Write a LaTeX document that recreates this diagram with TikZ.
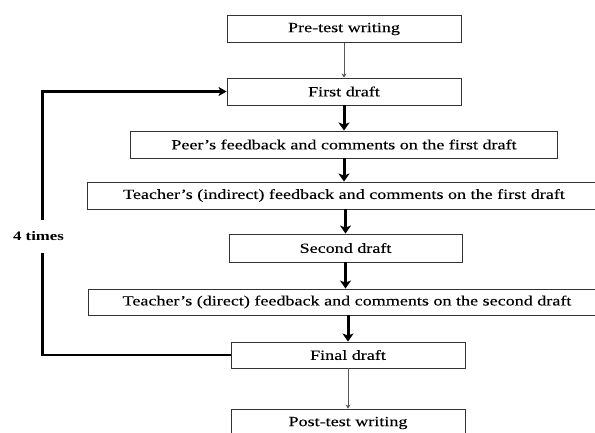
\documentclass[tikz,border=0pt]{standalone}
\usepackage{fontspec}
\setmainfont{Liberation Serif}[FakeStretch=1.29, FakeBold=0.12, BoldFeatures={FakeBold=0}]
\usetikzlibrary{arrows.meta}
\tikzset{
  box/.style={draw=black!80, line width=0.9pt, fill=white, minimum height=27pt, inner sep=0pt, font=\fontsize{14}{16}\selectfont},
  thin/.style={draw=black!65, line width=0.8pt, -{Stealth[length=4pt,width=5pt]}},
  thick/.style={draw=black, line width=3pt, -{Stealth[length=8pt,width=11pt,inset=2pt]}},
  loopline/.style={draw=black, line width=2.5pt, line join=miter},
}
\begin{document}
\begin{tikzpicture}[x=1pt,y=-1pt]
\useasboundingbox (0,0) rectangle (595,432);
\clip (0,0) rectangle (595,432);
\fill[white] (0,0) rectangle (595,432);
\node[box, minimum width=234pt] (pre) at (344,29) {Pre-test writing};
\node[box, minimum width=234pt] (first) at (344,91.5) {First draft};
\node[box, minimum width=427pt] (peer) at (344,144.5) {Peer’s feedback and comments on the first draft};
\node[box, minimum width=514pt] (tind) at (344,195.5) {Teacher’s (indirect) feedback and comments on the first draft};
\node[box, minimum width=233pt, minimum height=28pt] (second) at (345.5,248) {Second draft};
\node[box, minimum width=518pt, minimum height=26pt] (tdir) at (347,302) {Teacher’s (direct) feedback and comments on the second draft};
\node[box, minimum width=234pt, minimum height=26pt] (final) at (348,355) {Final draft};
\node[box, minimum width=234pt, minimum height=28pt] (post) at (348,423) {Post-test writing};
\coordinate (L) at (42.5,0);
\draw[thin] (pre.south) -- (first.north);
\draw[thick] (first.south) -- (peer.north);
\draw[thick] (peer.south) -- (tind.north);
\draw[thick] (second.north |- tind.south) -- (second.north);
\draw[thick] (second.south) -- (second.south |- tdir.north);
\draw[thick] (final.north |- tdir.south) -- (final.north);
\draw[thin] (final.south) -- (post.north);
\draw[loopline, -{Stealth[length=8pt,width=9pt,inset=2pt]}] (final.west) -- (final.west -| L) -- (first.west -| L) -- (first.west);
\node[fill=white, inner xsep=0pt, minimum height=33pt, font=\fontsize{13}{15}\selectfont\bfseries] (times) at (38.5,236.5) {4 times};
\end{tikzpicture}
\end{document}
